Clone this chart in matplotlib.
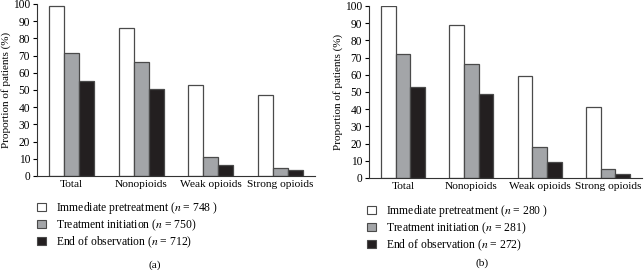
import numpy as np
import matplotlib
matplotlib.use("Agg")
import matplotlib.pyplot as plt

plt.rcParams['font.family'] = 'Liberation Serif'
plt.rcParams['mathtext.fontset'] = 'stix'

categories = ['Total', 'Nonopioids', 'Weak opioids', 'Strong opioids']

# panel (a)
pre_a = [99, 86, 53, 47]
init_a = [71.5, 66, 11, 4.5]
end_a = [55, 50.5, 6.5, 3.5]
n_a = [748, 750, 712]

# panel (b)
pre_b = [100, 89, 59.5, 41]
init_b = [72, 66, 18, 5]
end_b = [53, 49, 9.5, 2.5]
n_b = [280, 281, 272]

fills = ['white', '#a3a5a8', '#231f20']
edge = '#4a4a4a'

fig = plt.figure(figsize=(6.44, 2.70), dpi=100)


def panel(rect, series, ns, leg_xy, tag_xy, tag):
    ax = fig.add_axes(rect)
    x = np.arange(len(categories))
    w = 0.215
    for k, vals in enumerate(series):
        ax.bar(x + (k - 1) * w, vals, w, color=fills[k], edgecolor=edge, linewidth=0.9)
    ax.set_xlim(-0.5, 3.5)
    ax.set_ylim(0, 100)
    ax.set_yticks(range(0, 101, 10))
    ax.set_xticks(x)
    ax.set_xticklabels(categories, fontsize=8.2)
    ax.tick_params(axis='x', length=0, pad=3)
    ax.tick_params(axis='y', labelsize=8.3, length=3, width=0.8, pad=2)
    for s in ['top', 'right']:
        ax.spines[s].set_visible(False)
    for s in ['left', 'bottom']:
        ax.spines[s].set_linewidth(0.8)
        ax.spines[s].set_color('#333333')
    ax.set_ylabel('Proportion of patients (%)', fontsize=8, labelpad=1.5)
    labels = ['Immediate pretreatment ($n$ = %d )' % ns[0],
              'Treatment initiation ($n$ = %d)' % ns[1],
              'End of observation ($n$ = %d)' % ns[2]]
    handles = [plt.Rectangle((0, 0), 1, 1, facecolor=fills[k], edgecolor=edge, linewidth=0.8)
               for k in range(3)]
    fig.legend(handles, labels, loc='upper left', bbox_to_anchor=leg_xy,
               frameon=False, fontsize=8.4, handlelength=0.75, handleheight=0.75,
               handletextpad=0.9, labelspacing=0.12, borderpad=0, borderaxespad=0)
    fig.text(tag_xy[0], tag_xy[1], tag, fontsize=8.2, ha='center', va='center')
    return ax


panel([37 / 644, 1 - 176 / 270, 278 / 644, 172 / 270], [pre_a, init_a, end_a], n_a,
      (37 / 644, 1 - 200 / 270), (155 / 644, 1 - 265 / 270), '(a)')
panel([369 / 644, 1 - 178 / 270, 273 / 644, 172 / 270], [pre_b, init_b, end_b], n_b,
      (367 / 644, 1 - 203 / 270), (482 / 644, 1 - 263 / 270), '(b)')

fig.savefig('out.png', dpi=100)
